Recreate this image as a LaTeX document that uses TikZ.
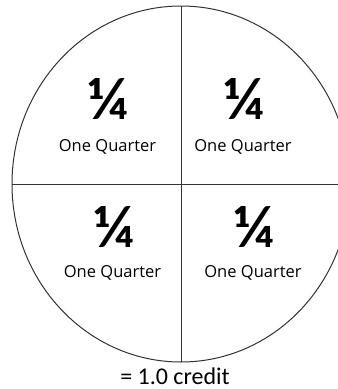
\documentclass[tikz,border=0pt]{standalone}
\usepackage{fontspec}
\setmainfont{Carlito}
\newfontfamily\labelfont{Open Sans}
\begin{document}
\begin{tikzpicture}[x=1pt,y=-1pt]
 \tikzset{frac/.style={font=\fontsize{60}{60}\selectfont\bfseries},
          quarter/.style={font=\labelfont\fontsize{16.5}{18}\selectfont}}
 \useasboundingbox (0,0) rectangle (338,389);
 \draw[line width=1pt,black!80] (181,184) ellipse [x radius=169,y radius=178];
 \draw[line width=1pt,black!80] (181,6)--(181,362);
 \draw[line width=1pt,black!80] (12,184)--(338,184);
 \node[frac] (f1) at (108,99) {¼};
 \node[frac] (f2) at (244,99) {¼};
 \node[frac] (f3) at (114,227) {¼};
 \node[frac] (f4) at (254,227) {¼};
 \node[quarter] (q1) at (107.5,147) {One Quarter};
 \node[quarter] (q2) at (243,147) {One Quarter};
 \node[quarter] (q3) at (112.5,273) {One Quarter};
 \node[quarter] (q4) at (253,273) {One Quarter};
 \node[font=\fontsize{24}{26}\selectfont,anchor=base,inner sep=0pt] (credit) at (175,384) {= 1.0 credit};
\end{tikzpicture}
\end{document}
